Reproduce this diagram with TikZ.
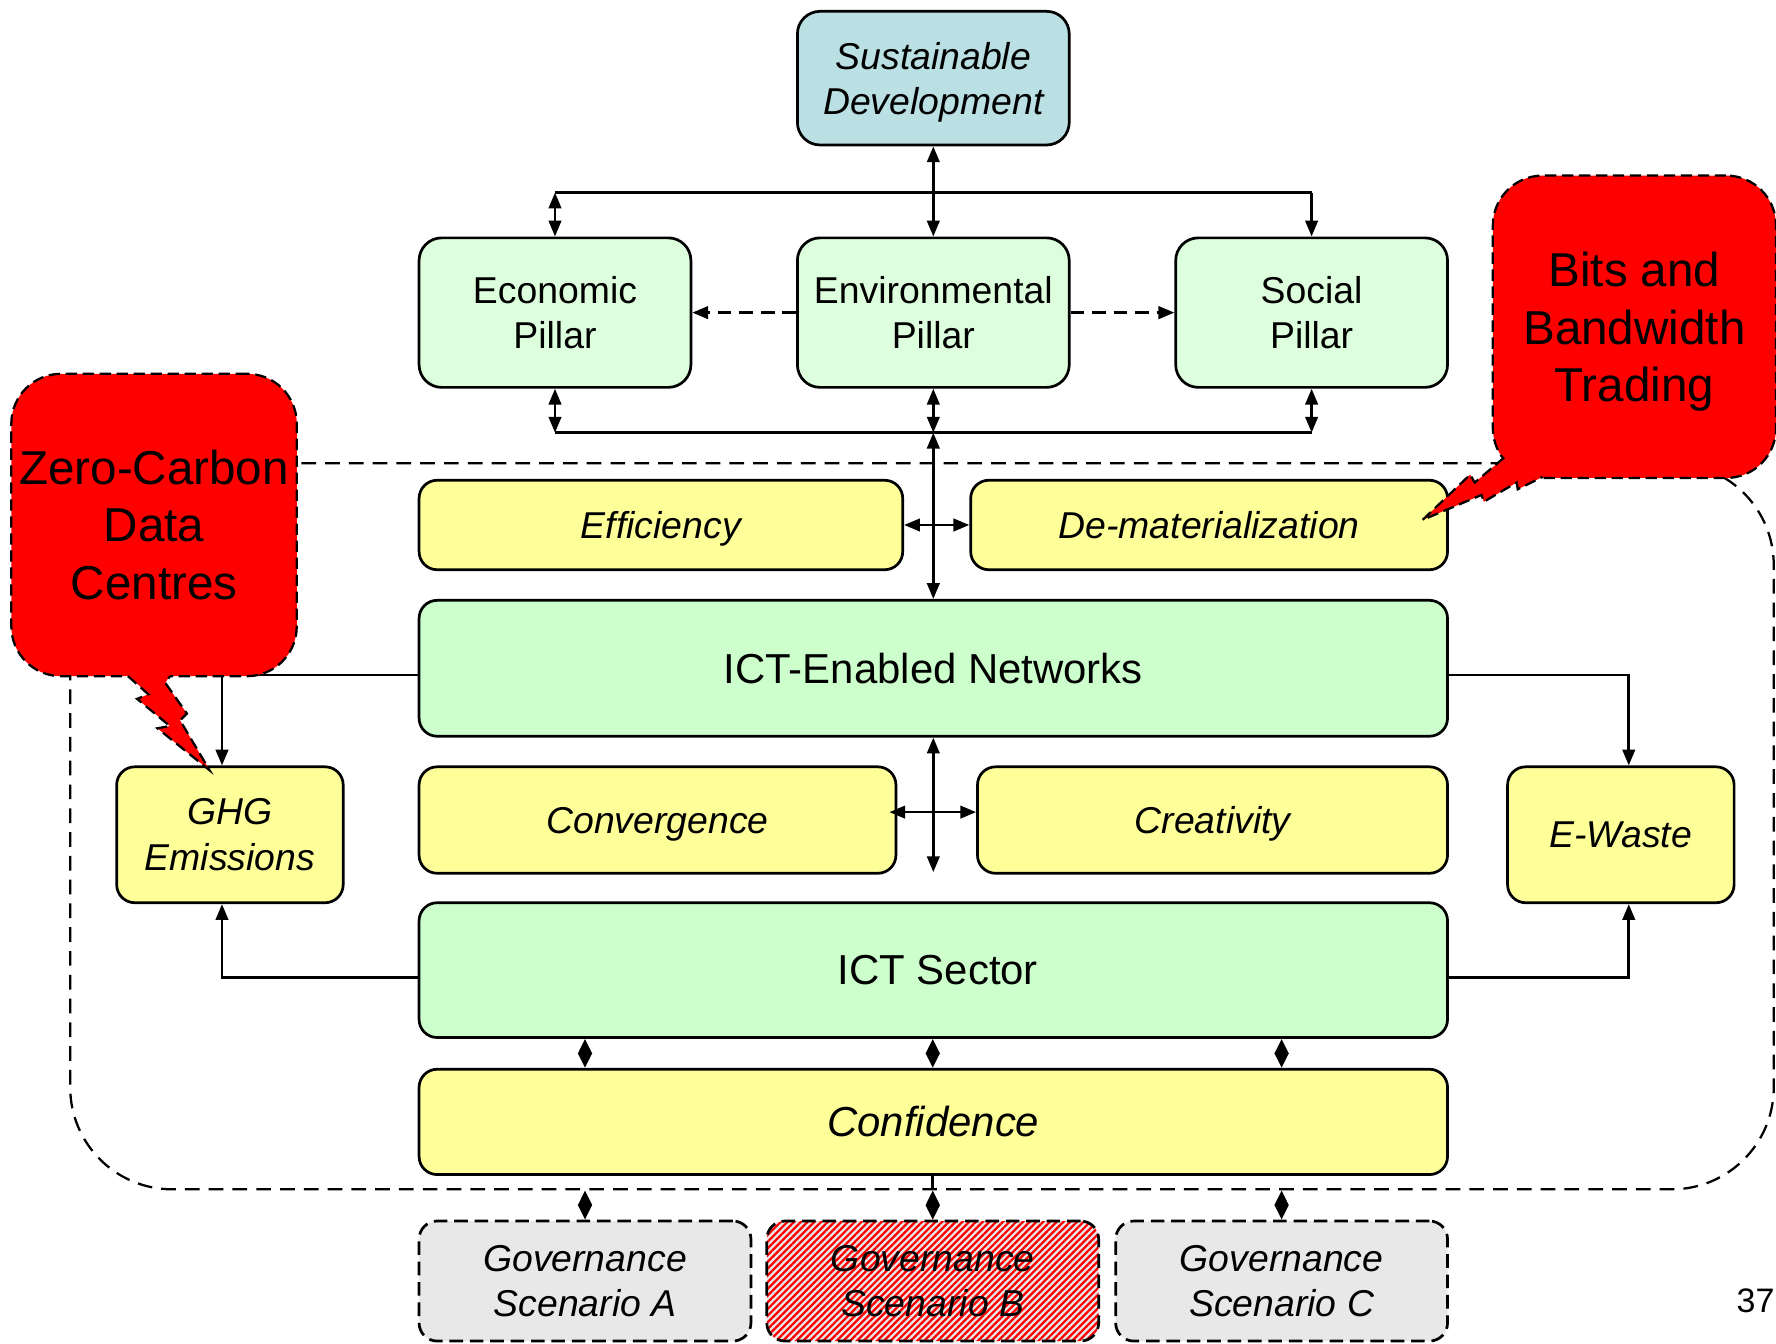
\documentclass[tikz,border=0pt]{standalone}
\usepackage{fontspec}
\setmainfont{Liberation Sans}
\usetikzlibrary{arrows.meta,patterns.meta}
\definecolor{sdblue}{RGB}{187,224,228}
\definecolor{pilgreen}{RGB}{222,255,222}
\definecolor{netgreen}{RGB}{204,255,204}
\definecolor{ylw}{RGB}{255,255,153}
\definecolor{govgray}{RGB}{232,232,232}
\begin{document}
\begin{tikzpicture}[x=1pt,y=-1pt,line width=2.4pt,
  >={Triangle[length=14pt,width=11pt]},
  dia/.style={arrows={Triangle[length=13pt,width=12pt]-Triangle[length=13pt,width=12pt]}},
  box/.style={draw=black,line width=2.4pt,rounded corners=16pt,inner sep=0pt,align=center,text=black},
  norm/.style={font=\fontsize{33}{40}\selectfont},
  ital/.style={font=\fontsize{33}{40}\selectfont\itshape},
  bignorm/.style={font=\fontsize{37}{44}\selectfont},
  bigital/.style={font=\fontsize{37}{44}\selectfont\itshape},
  nodepth/.style={text depth=0pt},
  pil/.style={box,fill=pilgreen,minimum width=240pt,minimum height=132pt,norm,rounded corners=20pt},
  ybox/.style={box,fill=ylw},
  gbox/.style={box,fill=netgreen,minimum width=908pt,bignorm},
  govbox/.style={box,dash pattern=on 12pt off 6pt,minimum width=293pt,minimum height=106pt,ital},
  callout/.style={draw=black,fill=red,dash pattern=on 10pt off 5pt,line width=2pt,rounded corners=44pt,inner sep=0pt,align=center,font=\fontsize{42}{51}\selectfont},
  cdash/.style={draw=black,dash pattern=on 10pt off 5pt,line width=2pt,line join=miter},
  region/.style={draw=black,dash pattern=on 13pt off 8pt,line width=2pt,rounded corners=90pt,inner sep=0pt},
  dashconn/.style={dash pattern=on 12pt off 7pt},
]
\useasboundingbox (0,0) rectangle (1568,1186);
\fill[white] (0,0) rectangle (1568,1186);

% dashed region
\node[region,minimum width=1504pt,minimum height=641pt] (region) at (814,729.5) {};

% boxes
\node[box,fill=sdblue,minimum width=240pt,minimum height=118pt,rounded corners=20pt,ital,nodepth] (sd) at (824,69) {Sustainable\\Development};
\node[pil] (econ) at (490,276) {Economic\\Pillar};
\node[pil] (env) at (824,276) {Environmental\\Pillar};
\node[pil] (soc) at (1158,276) {Social\\Pillar};

\node[ybox,ital,nodepth,minimum width=427pt,minimum height=79pt] (eff) at (583.5,463.5) {Efficiency};
\node[ybox,ital,minimum width=421pt,minimum height=79pt] (demat) at (1067.5,463.5) {De-materialization};

\node[gbox,minimum height=120pt] (net) at (824,590) {ICT-Enabled Networks};

\node[ybox,ital,minimum width=200pt,minimum height=120pt] (ghg) at (203,737) {GHG\\Emissions};
\node[ybox,ital,nodepth,minimum width=421pt,minimum height=94pt] (conv) at (580.5,724) {Convergence};
\node[ybox,ital,nodepth,minimum width=415pt,minimum height=94pt] (crea) at (1070.5,724) {Creativity};
\node[ybox,ital,minimum width=200pt,minimum height=120pt] (ewaste) at (1431,737) {E-Waste};

\node[gbox,minimum height=119pt] (sector) at (824,856.5) {\hspace*{8pt}ICT Sector};
\node[ybox,bigital,minimum width=908pt,minimum height=93pt] (conf) at (824,990.5) {Confidence};

\node[govbox,fill=govgray] (govA) at (516.5,1131) {Governance\\Scenario A};
\node[govbox,preaction={fill=govgray},pattern={Lines[angle=45,distance=4.2pt,line width=2pt]},pattern color=red] (govB) at (823.5,1131) {Governance\\Scenario B};
\node[govbox,fill=govgray] (govC) at (1131.5,1131) {Governance\\Scenario C};

% top connectors
\coordinate (tl) at (490,170);
\coordinate (tr) at (1158,170);
\draw (tl) -- (tr);
\draw[<->] (sd.south) -- (env.north);
\draw[<->] (tl) -- (econ.north);
\draw[->] (tr) -- (soc.north);
\draw[->,dashconn] (env.west) -- (econ.east);
\draw[->,dashconn] (env.east) -- (soc.west);

\coordinate (bl) at (490,382);
\coordinate (bm) at (824,382);
\coordinate (br) at (1158,382);
\draw (bl) -- (br);
\draw[<->] (econ.south) -- (bl);
\draw[<->] (env.south) -- (bm);
\draw[<->] (soc.south) -- (br);
\draw[<->] (bm) -- (net.north);
\draw[<->] (eff.east) -- (demat.west);

% networks connectors
\coordinate (mb) at (824,770);
\draw[<->] (net.south) -- (mb);
\draw[<->] ([xshift=-7pt,yshift=7pt]conv.east) -- ([yshift=7pt]crea.west);
\draw[->] ([yshift=-6pt]net.west) -| ([xshift=-7pt]ghg.north);
\draw[->] ([yshift=-6pt]net.east) -| ([xshift=7pt]ewaste.north);
\draw[->] ([yshift=-6.5pt]sector.west) -| ([xshift=-7pt]ghg.south);
\draw[->] ([yshift=-6.5pt]sector.east) -| ([xshift=7pt]ewaste.south);

% sector - confidence
\draw[dia] (sector.south -| govA.north) -- (conf.north -| govA.north);
\draw[dia] (sector.south -| govB.north) -- (conf.north -| govB.north);
\draw[dia] (sector.south -| govC.north) -- (conf.north -| govC.north);

% confidence - governance
\draw (conf.south -| govB.north) -- (region.south -| govB.north);
\draw[dia] (region.south -| govA.north) -- (govA.north);
\draw[dia] (region.south -| govB.north) -- (govB.north);
\draw[dia] (region.south -| govC.north) -- (govC.north);

% callouts
\node[callout,minimum width=252pt,minimum height=267pt] (zc) at (136,463.5) {Zero-Carbon\\Data\\Centres};
\fill[red] (113,588) -- (113,596) -- (131,613) -- (121,617) -- (150,641) -- (139,643) -- (185,680) -- (159,636) -- (165,630) -- (146,603) -- (150,596) -- (150,588) -- cycle;
\draw[cdash] (113,597) -- (131,613) -- (121,617) -- (150,641) -- (139,643) -- (185,680) -- (159,636) -- (165,630) -- (146,603) -- (150,597);

\node[callout,nodepth,minimum width=250pt,minimum height=267pt] (bits) at (1443,288.5) {Bits and\\Bandwidth\\Trading};
\fill[red] (1328,404) -- (1302,426) -- (1298,419) -- (1256,459) -- (1308,437) -- (1310,443) -- (1339,426) -- (1340,432) -- (1362,421) -- (1362,402) -- (1335,395) -- cycle;
\draw[cdash] (1328,404) -- (1302,426) -- (1298,419) -- (1256,459) -- (1308,437) -- (1310,443) -- (1339,426) -- (1340,432) -- (1362,421);

% page number
\node[font=\fontsize{30}{36}\selectfont,inner sep=0pt] (pg) at (1550,1148) {37};
\end{tikzpicture}
\end{document}
